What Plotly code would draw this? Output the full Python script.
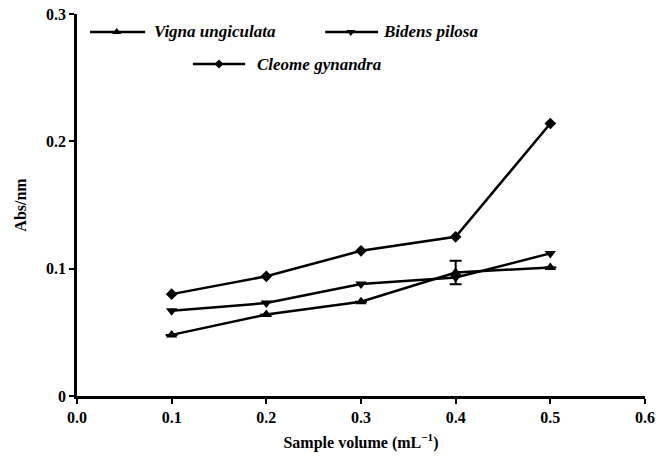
import plotly.graph_objects as go

volume = [0.1, 0.2, 0.3, 0.4, 0.5]
vigna = [0.048, 0.064, 0.074, 0.097, 0.101]
vigna_err = [0, 0, 0, 0.0093, 0]
bidens = [0.067, 0.073, 0.088, 0.093, 0.112]
cleome = [0.080, 0.094, 0.114, 0.125, 0.214]

names = ["Vigna ungiculata", "Bidens pilosa", "Cleome gynandra"]
symbols = ["triangle-up", "triangle-down", "diamond"]
series = [vigna, bidens, cleome]

x_ticks = [0.0, 0.1, 0.2, 0.3, 0.4, 0.5, 0.6]
y_ticks = [0, 0.1, 0.2, 0.3]
y_ticktext = ["0", "0.1", "0.2", "0.3"]

SERIF = "Liberation Serif, Times New Roman, serif"

fig = go.Figure()
for i, (name, sym, ys) in enumerate(zip(names, symbols, series)):
    kw = {}
    if i == 0:
        kw["error_y"] = dict(type="data", array=vigna_err, visible=True,
                             color="black", thickness=2, width=6)
    fig.add_trace(go.Scatter(
        x=volume, y=ys, mode="lines+markers", name=name,
        line=dict(color="black", width=2.5),
        marker=dict(symbol=sym, size=10 if sym != "diamond" else 9, color="black"),
        showlegend=False, **kw))

# custom legend (paper-based decoration)
leg = [
    (0.023, 0.120, 0.070, 0.132, 0.953),
    (0.437, 0.530, 0.482, 0.535, 0.953),
    (0.204, 0.296, 0.250, 0.313, 0.869),
]
for (name, sym), (x0, x1, xm, xt, yy) in zip(zip(names, symbols), leg):
    fig.add_trace(go.Scatter(
        x=[x0, xm, x1], y=[yy, yy, yy], xaxis="x2", yaxis="y2",
        mode="lines", line=dict(color="black", width=2.5),
        showlegend=False, hoverinfo="skip"))
    fig.add_trace(go.Scatter(
        x=[xm], y=[yy], xaxis="x2", yaxis="y2", mode="markers",
        marker=dict(symbol=sym, size=8 if sym != "diamond" else 7, color="black"),
        showlegend=False, hoverinfo="skip"))
    fig.add_annotation(
        x=xt, y=yy, xref="paper", yref="paper", xanchor="left", yanchor="middle",
        text="<b><i>%s</i></b>" % name, showarrow=False,
        font=dict(family=SERIF, size=17, color="black"))

fig.update_layout(
    width=659, height=461,
    margin=dict(l=77, r=14, t=14, b=65),
    paper_bgcolor="white", plot_bgcolor="white",
    xaxis=dict(range=[0, 0.6], tickvals=x_ticks, tickformat=".1f", automargin=False,
               showgrid=False, zeroline=False, showline=True, linecolor="black",
               linewidth=2.5, ticks="outside", tickwidth=2, ticklen=5, tickcolor="black",
               tickfont=dict(family=SERIF, size=16, color="black", weight="bold"),
               title=dict(text="<b>Sample volume (mL<sup>−1</sup>)</b>",
                          font=dict(family=SERIF, size=16, color="black"), standoff=12)),
    yaxis=dict(range=[0, 0.3], tickvals=y_ticks, ticktext=y_ticktext, automargin=False,
               showgrid=False, zeroline=False, showline=True, linecolor="black",
               linewidth=2.5, ticks="outside", tickwidth=2, ticklen=5, tickcolor="black",
               tickfont=dict(family=SERIF, size=16, color="black", weight="bold"),
               title=dict(text="<b>Abs/nm</b>",
                          font=dict(family=SERIF, size=16, color="black"), standoff=16)),
    xaxis2=dict(overlaying="x", range=[0, 1], visible=False, fixedrange=True),
    yaxis2=dict(overlaying="y", range=[0, 1], visible=False, fixedrange=True),
)

fig.write_html("out.html")
